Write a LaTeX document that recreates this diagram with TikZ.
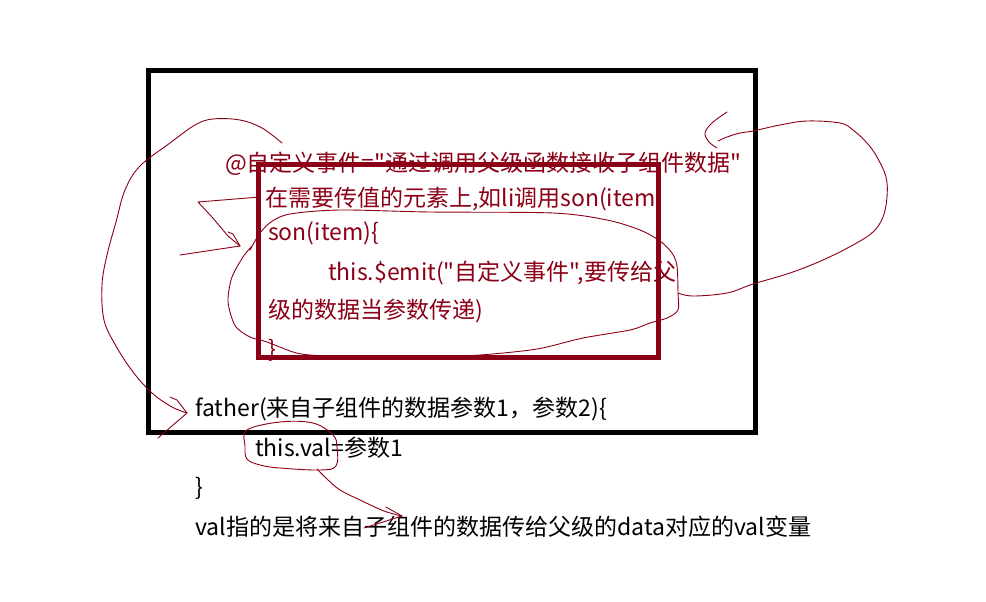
\documentclass[tikz,border=0pt]{standalone}
\usepackage{fontspec}
\newfontfamily\cjkfont{Noto Sans CJK SC}
\definecolor{inkred}{RGB}{139,0,22}
\tikzset{
  codeline/.style={anchor=west, inner sep=0pt, font=\cjkfont\fontsize{23}{27}\selectfont,
    text height=20pt, text depth=3pt},
  redline/.style={codeline, text=inkred},
  scribble/.style={draw=inkred, line width=0.9pt, line join=round, line cap=round},
}

\begin{document}
\begin{tikzpicture}[x=1pt, y=-1pt]
  \useasboundingbox[fill=white] (0,0) rectangle (986,602);

  % child component (son)
  \node[redline] (evt)    at (225,163) {@自定义事件="通过调用父级函数接收子组件数据"};
  \node[redline] (hint)   at (265,198) {在需要传值的元素上,如li调用son(item)};
  \node[redline] (son)    at (268,232) {son(item)\{};
  \node[redline] (emit)   at (328,272) {this.\$emit("自定义事件",要传给父};
  \node[redline] (emitb)  at (268,310) {级的数据当参数传递)};
  \node[redline] (sonend) at (268,349) {\}};

  % parent component (father)
  \node[codeline] (father)    at (195,408) {father(来自子组件的数据参数1，参数2)\{};
  \node[codeline] (assign)    at (255,448) {this.val=参数1};
  \node[codeline] (fatherend) at (195,487) {\}};
  \node[codeline] (note)      at (195,527) {val指的是将来自子组件的数据传给父级的data对应的val变量};

  % boxes
  \draw[line width=5pt] (148.5,70.5) rectangle (755,432.5);
  \draw[inkred, line width=5pt] (258,164.5) rectangle (658,357);

  % tips of the hand drawn arrows
  \coordinate (tipfather) at (187,413);
  \coordinate (tipson)    at (240,246);
  \coordinate (tipevt)    at (718,141);
  \coordinate (tipnote)   at (402,516);

  % @event -> father
  \draw[scribble] plot[smooth, tension=0.6] coordinates {(282,143) (262,128) (240,120) (213,119)
    (195,125) (170,143) (140,166) (125,190) (116,222) (107,255) (102,285) (104,320) (116,346)
    (133,372) (152,393) (172,407) (tipfather)};
  \draw[scribble] (170,397) -- (177,400) -- (tipfather) -- (158,438);

  % hint -> son(item)
  \draw[scribble] (260,197) -- (198,202) -- (212,217) -- (228,236) -- (tipson);
  \draw[scribble] (228,232) -- (233,234) -- (tipson);
  \draw[scribble] (180,255) -- (tipson);

  % ring round the son body
  \draw[scribble] plot[smooth, tension=0.5] coordinates {(250,250) (255,241) (260,233) (271,222)
    (290,214) (340,210) (430,212) (553,213) (607,220) (640,230) (660,241) (672,253) (677,266)
    (678,293) (678,310) (667,318) (650,323) (630,330) (583,338) (537,349) (480,355) (430,357)
    (350,357) (310,355) (293,352) (267,342) (250,337) (236,327) (230,312) (228,298) (232,277)
    (243,257) (252,246)};

  % ring -> @event
  \draw[scribble] plot[smooth, tension=0.6] coordinates {(678,293) (693,296) (727,293) (753,284)
    (790,273) (823,260) (853,245) (873,232) (883,217) (887,197) (886,177) (877,157) (867,143)
    (853,130) (840,123) (807,121) (780,125) (753,131) (740,133) (727,137) (tipevt)};
  \draw[scribble] plot[smooth, tension=0.6] coordinates {(727,112) (712,123) (705,133) (709,142) (717,148)};

  % ring round this.val -> note
  \draw[scribble] plot[smooth cycle, tension=0.6] coordinates {(247,430) (280,422) (313,423)
    (333,435) (337,447) (336,466) (320,470) (280,468) (260,465) (247,459) (245,446)};
  \draw[scribble] plot[smooth, tension=0.6] coordinates {(317,469) (327,479) (340,490) (360,500)
    (384,511) (tipnote)};
  \draw[scribble] (386,507) -- (tipnote) -- (364,528);
\end{tikzpicture}
\end{document}
